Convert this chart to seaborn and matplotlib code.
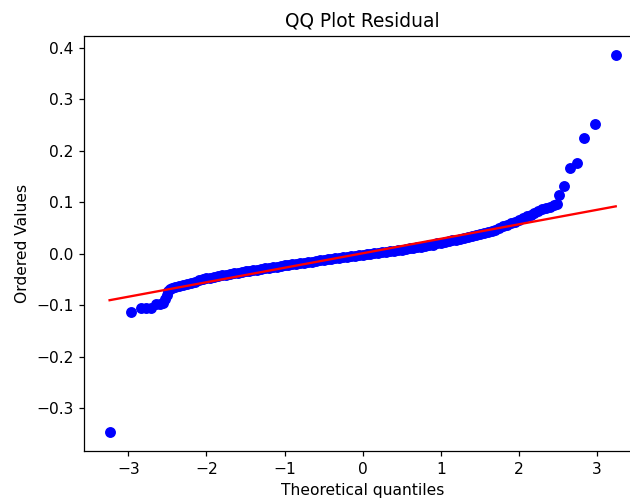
import matplotlib
matplotlib.use("Agg")
import matplotlib.pyplot as plt
import numpy as np
import pandas as pd
import seaborn as sns

# Normal probability plot of the model residuals
theoretical_quantiles = [
    -3.24, -2.97, -2.84, -2.77, -2.71, -2.64, -2.60, -2.56, -2.53, -2.51,
    -2.49, -2.47, -2.44,
    -2.40, -2.35, -2.30, -2.25, -2.20, -2.15, -2.10, -2.05, -2.00, -1.95,
    -1.90, -1.85, -1.80, -1.75, -1.70, -1.65, -1.60, -1.55, -1.50, -1.45,
    -1.40, -1.35, -1.30, -1.25, -1.20, -1.15, -1.10, -1.05, -1.00, -0.95,
    -0.90, -0.85, -0.80, -0.75, -0.70, -0.65, -0.60, -0.55, -0.50, -0.45,
    -0.40, -0.35, -0.30, -0.25, -0.20, -0.15, -0.10, -0.05, 0.00, 0.05,
    0.10, 0.15, 0.20, 0.25, 0.30, 0.35, 0.40, 0.45, 0.50, 0.55,
    0.60, 0.65, 0.70, 0.75, 0.80, 0.85, 0.90, 0.95, 1.00, 1.05,
    1.10, 1.15, 1.20, 1.25, 1.30, 1.35, 1.40, 1.45, 1.50, 1.55,
    1.60, 1.65, 1.70, 1.75, 1.80, 1.85, 1.90, 1.95, 2.00, 2.05,
    2.10, 2.15, 2.20, 2.25, 2.30, 2.35, 2.40, 2.45, 2.49,
    2.52, 2.58, 2.65, 2.74, 2.84, 2.98, 3.24,
]
ordered_values = [
    -0.346, -0.113, -0.106, -0.106, -0.105, -0.098, -0.097, -0.096, -0.088, -0.080,
    -0.073, -0.069, -0.067,
    -0.065, -0.062, -0.060, -0.058, -0.056, -0.054, -0.051, -0.049, -0.047, -0.046,
    -0.045, -0.043, -0.042, -0.041, -0.039, -0.038, -0.037, -0.036, -0.034, -0.033,
    -0.032, -0.031, -0.029, -0.028, -0.027, -0.026, -0.025, -0.023, -0.022, -0.021,
    -0.020, -0.019, -0.018, -0.017, -0.016, -0.015, -0.014, -0.013, -0.012, -0.011,
    -0.010, -0.009, -0.008, -0.007, -0.006, -0.005, -0.004, -0.003, -0.002, -0.001,
    0.000, 0.001, 0.002, 0.003, 0.004, 0.005, 0.006, 0.007, 0.008, 0.009,
    0.011, 0.012, 0.013, 0.014, 0.016, 0.017, 0.018, 0.020, 0.021, 0.023,
    0.024, 0.026, 0.027, 0.029, 0.030, 0.032, 0.034, 0.036, 0.038, 0.040,
    0.042, 0.044, 0.047, 0.050, 0.053, 0.056, 0.059, 0.062, 0.065, 0.069,
    0.073, 0.076, 0.080, 0.083, 0.086, 0.089, 0.091, 0.094, 0.097,
    0.114, 0.131, 0.166, 0.176, 0.225, 0.252, 0.386,
]

# Least-squares fit of ordered values on theoretical quantiles
fit_slope = 0.0281
fit_intercept = 0.001

df = pd.DataFrame({"osm": theoretical_quantiles, "osr": ordered_values})
df["fit"] = fit_intercept + fit_slope * df["osm"]

fig = plt.figure(figsize=(630 / 112, 499 / 112), dpi=112)
ax = fig.add_axes([0.1338, 0.0962, 0.8837, 0.8317])

sns.scatterplot(data=df, x="osm", y="osr", ax=ax, color="blue",
                edgecolor="blue", s=36, linewidth=1, zorder=2)
sns.lineplot(data=df, x="osm", y="fit", ax=ax, color="red",
             linewidth=1.5, zorder=3, estimator=None, sort=True)

ax.set_title("QQ Plot Residual")
ax.set_xlabel("Theoretical quantiles")
ax.set_ylabel("Ordered Values")

fig.savefig("out.png", dpi=112)
